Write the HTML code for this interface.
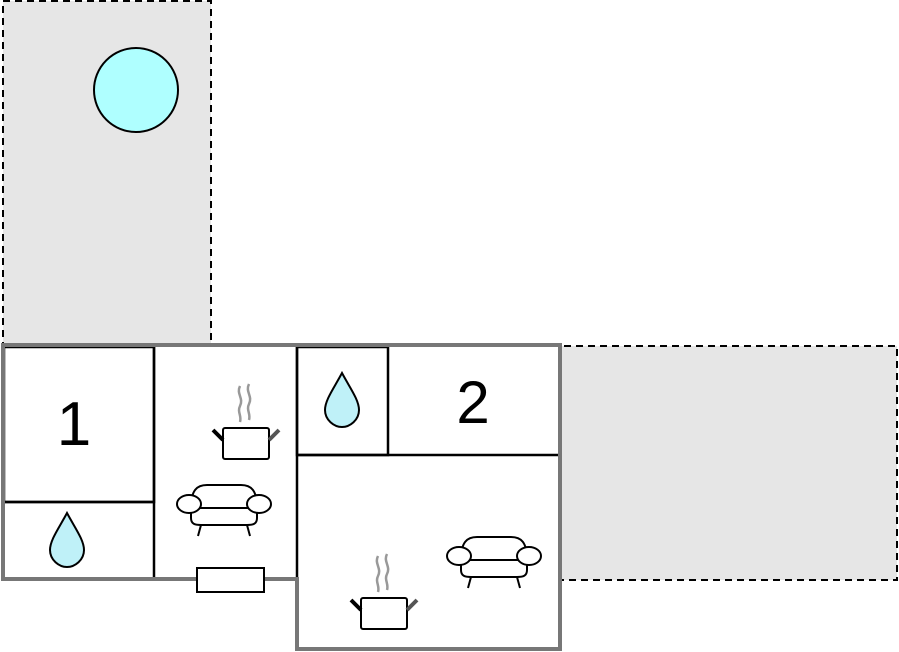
<!DOCTYPE html>
<html><head><style>html,body{margin:0;padding:0;background:#fff}svg{display:block}</style></head><body>
<svg width="899" height="652" viewBox="0 0 899 652" xmlns="http://www.w3.org/2000/svg">
<defs>
<g id="drop"><path d="M0,-27 C-8,-12 -17,0 -17,10 C-17,20 -8,27 0,27 C8,27 17,20 17,10 C17,0 8,-12 0,-27 Z" fill="#bff1f8" stroke="#000" stroke-width="2"/></g>
<g id="pot">
<path d="M-6,-58 c-4,8 4,12 0,20 c-3,6 2,10 0,16 M3,-60 c-4,8 4,12 0,20 c-3,6 2,10 0,16" fill="none" stroke="#999" stroke-width="2.5"/>
<rect x="-23" y="-16" width="46" height="31" rx="2" fill="#fff" stroke="#000" stroke-width="2"/>
<line x1="-23" y1="-4" x2="-33" y2="-14" stroke="#000" stroke-width="4"/>
<line x1="23" y1="-4" x2="33" y2="-14" stroke="#555" stroke-width="4"/>
</g>
<g id="sofa" fill="#fff" stroke="#000" stroke-width="2">
<path d="M-32,-2 C-32,-20 -26,-25 -16,-25 L18,-25 C28,-25 34,-20 34,-2 Z"/>
<path d="M-32,-2 L34,-2 L34,8 C34,14 30,15 24,15 L-22,15 C-28,15 -32,14 -32,8 Z"/>
<ellipse cx="-34" cy="-6" rx="12" ry="9"/>
<ellipse cx="36" cy="-6" rx="12" ry="9"/>
<line x1="-22" y1="15" x2="-25" y2="26"/><line x1="24" y1="15" x2="27" y2="26"/>
</g>
</defs>
<rect x="3" y="1" width="208" height="344" fill="#e6e6e6" stroke="#000" stroke-width="2" stroke-dasharray="7,5"/>
<circle cx="136" cy="90" r="42" fill="#afffff" stroke="#000" stroke-width="2"/>
<rect x="540" y="346" width="357" height="234" fill="#e6e6e6" stroke="#000" stroke-width="2" stroke-dasharray="7,5"/>
<polygon points="3,345 560,345 560,649 297,649 297,579 3,579" fill="#fff"/>
<g stroke="#000" stroke-width="2.5" fill="none">
<rect x="4" y="347" width="150" height="155"/>
<line x1="4" y1="502" x2="154" y2="502"/>
<line x1="154" y1="347" x2="154" y2="579"/>
<line x1="297" y1="347" x2="297" y2="579"/>
<rect x="297" y="347" width="91" height="108"/>
<line x1="297" y1="455" x2="559" y2="455"/>
</g>
<polygon points="3,345 560,345 560,649 297,649 297,579 3,579" fill="none" stroke="#777" stroke-width="4"/>
<rect x="197" y="568" width="67" height="24" fill="#fff" stroke="#000" stroke-width="2"/>
<text x="74" y="445" font-family="Liberation Sans, sans-serif" font-size="62" text-anchor="middle">1</text>
<text x="473" y="423" font-family="Liberation Sans, sans-serif" font-size="60" text-anchor="middle">2</text>
<use href="#drop" x="67" y="540"/>
<use href="#drop" x="342" y="400"/>
<use href="#pot" x="246" y="444"/>
<use href="#pot" x="384" y="614"/>
<use href="#sofa" x="223" y="510"/>
<use href="#sofa" x="493" y="562"/>
</svg>
</body></html>
